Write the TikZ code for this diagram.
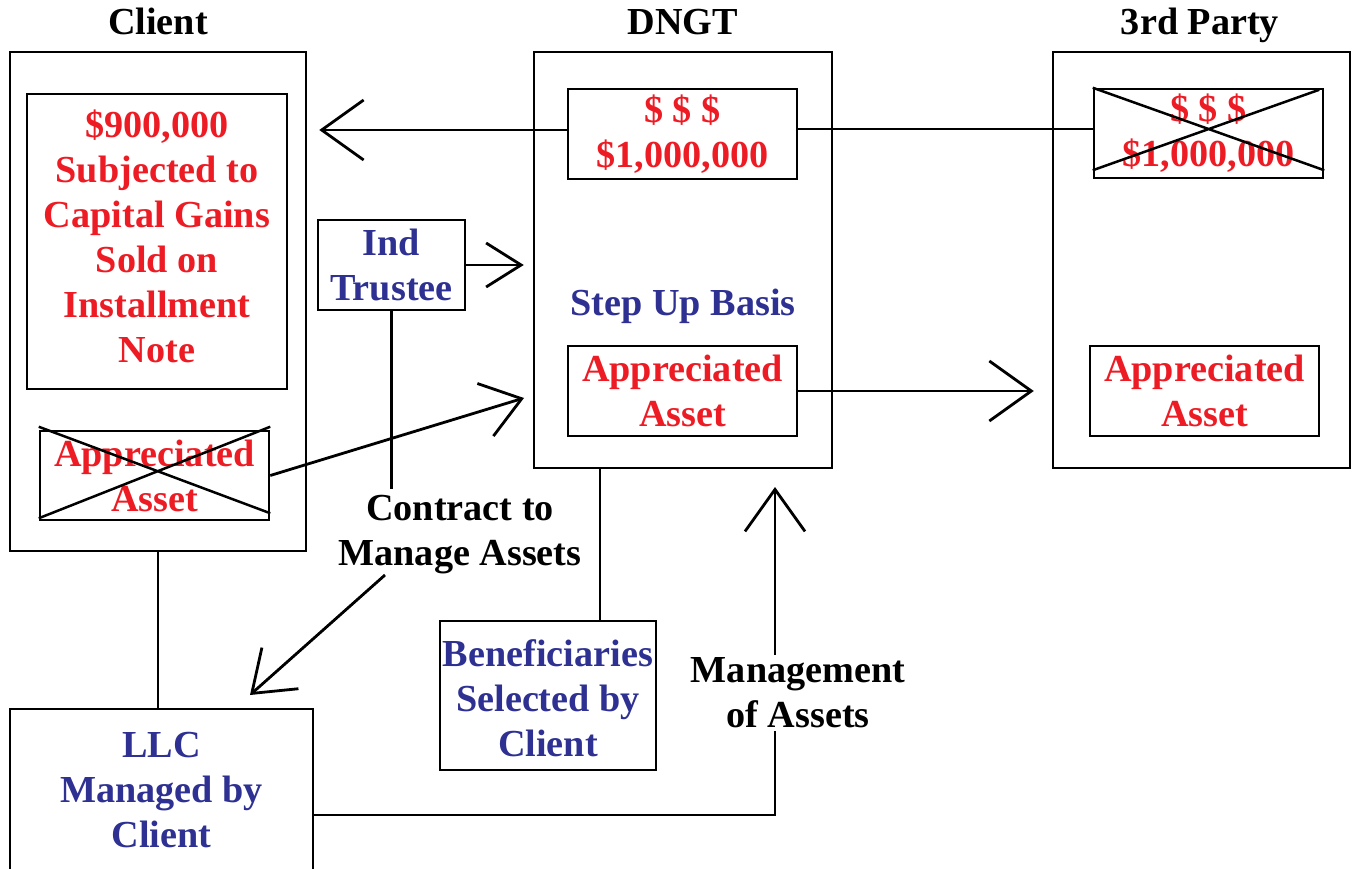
\documentclass[tikz,border=0pt]{standalone}
\usepackage{fontspec}
\setmainfont{Liberation Serif}
\usetikzlibrary{arrows.meta,calc}
\definecolor{tred}{RGB}{237,28,36}
\definecolor{tblue}{RGB}{46,49,146}
\begin{document}
\begin{tikzpicture}[x=1pt,y=-1pt,
  box/.style={draw,line width=2.5pt,inner sep=0pt,align=center},
  lbl/.style={font=\fontsize{38.2}{45}\selectfont\bfseries,align=center,inner sep=0pt},
  ln/.style={line width=2.8pt},
  arr/.style={line width=2.8pt,-{Straight Barb[length=42pt,width=60pt]}},
  arrs/.style={line width=2.8pt,-{Straight Barb[length=35pt,width=44pt]}},
  arrd/.style={line width=2.8pt,-{Straight Barb[length=38pt,width=55pt]}}]
\useasboundingbox (0,0) rectangle (1353,869);
% titles
\node[lbl,anchor=base] (tclient) at (158,35) {Client};
\node[lbl,anchor=base] (tdngt) at (683,35) {DNGT};
\node[lbl,anchor=base] (tthird) at (1200,35) {3rd Party};
% client column
\node[box,minimum width=296,minimum height=499] (client) at (158,301.5) {};
\node[box,lbl,text=tred,text depth=10pt,minimum width=260,minimum height=295] (gains) at (157,241.5)
  {\$900,000\\Subjected to\\Capital Gains\\Sold on\\Installment\\Note};
\node[box,lbl,text=tred,minimum width=229,minimum height=89] (xasset) at (154.5,475.5) {Appreciated\\Asset};
\draw[line width=2.5pt] ([yshift=3pt]xasset.north west) -- ([yshift=8pt]xasset.south east)
  ([yshift=3pt]xasset.south west) -- ([yshift=3pt]xasset.north east);
% DNGT column
\node[box,minimum width=298,minimum height=416] (dngt) at (683,260) {};
\node[box,lbl,text=tred,minimum width=229,minimum height=90] (dollar) at (682.5,134) {\$ \$ \$\\\$1,000,000};
\node[lbl,text=tblue] (stepup) at (683,306) {Step Up Basis};
\node[box,lbl,text=tred,minimum width=229,minimum height=90] (appasset) at (682.5,391) {Appreciated\\Asset};
% third party column
\node[box,minimum width=297,minimum height=416] (third) at (1201.5,260) {};
\node[box,lbl,text=tred,minimum width=229,minimum height=89] (xdollar) at (1208.5,133.5) {\$ \$ \$\\\$1,000,000};
\draw[line width=2.5pt] (xdollar.north west) -- ([yshift=9pt]xdollar.south east)
  ([yshift=9pt]xdollar.south west) -- ([shift={(-5pt,-2pt)}]xdollar.north east);
\node[box,lbl,text=tred,minimum width=229,minimum height=90] (appasset3) at (1204.5,391) {Appreciated\\Asset};
% middle
\node[box,lbl,text=tblue,minimum width=147,minimum height=90] (trustee) at (391.5,265) {Ind\\Trustee};
\node[lbl] (contract) at (460,535) {Contract to\\Manage Assets};
\node[box,minimum width=216,minimum height=149] (bene) at (548,695.5) {};
\node[lbl,text=tblue] (benetext) at ([yshift=-3pt]bene.center) {Beneficiaries\\Selected by\\Client};
\node[box,lbl,text=tblue,minimum width=303,minimum height=162] (llc) at (161.5,790) {LLC\\Managed by\\Client};
% coordinates
\coordinate (c1) at (385,575);
\coordinate (c2) at (250,695);
\coordinate (d1) at (524,398);
\coordinate (b1) at (600,468);
\coordinate (mtip) at (775,487);
% connectors
\draw[arr,shorten >=12pt] ([yshift=4pt]dollar.west) -- ([yshift=4pt]dollar.west -| client.east);
\draw[ln] ([yshift=5pt]dollar.east) -- ([yshift=5pt]dollar.east -| xdollar.west);
\draw[arrs,shorten >=9pt] (trustee.east) -- (trustee.east -| dngt.west);
\draw[ln,shorten >=6pt] (trustee.south) -- (trustee.south |- contract.north);
\draw[arrd] (c1) -- (c2);
\draw[arrd] (xasset.east) -- (d1);
\draw[arr,shorten >=18pt] (appasset.east) -- (appasset.east -| third.west);
\draw[ln] (b1) -- (b1 |- bene.north);
\draw[ln] (client.south) -- (client.south |- llc.north);
\draw[arr] ([yshift=-25pt]llc.east) -| (mtip);
% label over the vertical line
\node[lbl,fill=white,inner sep=3pt] (mgmt) at (798,693) {Management\\of Assets};
\end{tikzpicture}
\end{document}
